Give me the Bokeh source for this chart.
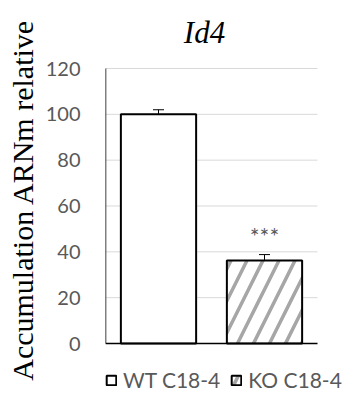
from bokeh.plotting import figure
from bokeh.models import ColumnDataSource, Range1d, FixedTicker, Whisker, TeeHead, Legend, LegendItem, Label
from bokeh.core.properties import value
from bokeh.embed import file_html
from bokeh.resources import INLINE

categories = ["WT C18-4", "KO C18-4"]
means = [100.0, 36.2]
errors = [2.0, 2.6]
significance = ["", "***"]
y_ticks = [0, 20, 40, 60, 80, 100, 120]
title_text = "Id4"
y_label = "Accumulation ARNm relative"

SERIF = "'Liberation Serif', 'Times New Roman', serif"
SANS = "Lato"

# canvas geometry (pixels)
W, H = 343, 399
LEFT = 105          # plot-area left edge
CAT_PX = 106        # width of one category slot
TOP_PX = 68         # pixel row of y = 120
ZERO_PX = 343       # pixel row of y = 0
k = (ZERO_PX - TOP_PX) / (y_ticks[-1] - y_ticks[0])   # px per unit

xs = [i + 0.5 for i in range(len(categories))]
src = ColumnDataSource(dict(
    x=xs,
    mean=means,
    upper=[m + e for m, e in zip(means, errors)],
    lower=[m - e for m, e in zip(means, errors)],
    sig=significance,
    sig_y=[m + e + 8.0 for m, e in zip(means, errors)],
))

p = figure(width=W, height=H, output_backend="svg", toolbar_location=None,
           x_range=Range1d(0, (W - LEFT) / CAT_PX),
           y_range=Range1d(-(H - ZERO_PX) / k, y_ticks[-1] + TOP_PX / k),
           min_border_left=LEFT, min_border_right=0, min_border_top=0, min_border_bottom=0)
p.title.visible = False
p.outline_line_color = None
p.background_fill_color = "white"
p.border_fill_color = "white"
p.xaxis.visible = False
p.xgrid.grid_line_color = None
p.ygrid.grid_line_color = None

n = len(categories)
# horizontal grid lines over the plot area only
grid_y = [t for t in y_ticks if t > 0]
p.segment(x0=[0] * len(grid_y), x1=[n] * len(grid_y), y0=grid_y, y1=grid_y,
          line_color="#d9d9d9", line_width=1)

wt = p.vbar(x=[xs[0]], top=[means[0]], width=0.71, fill_color="white",
            line_color="black", line_width=2)
ko = p.vbar(x=[xs[1]], top=[means[1]], width=0.71, fill_color="white",
            line_color="black", line_width=2, hatch_pattern="/", hatch_color="#a6a6a6",
            hatch_scale=32, hatch_weight=3.5)

# axes lines
p.segment(x0=[0], x1=[n], y0=[y_ticks[0]], y1=[y_ticks[0]], line_color="black", line_width=1.5)
p.segment(x0=[0], x1=[0], y0=[y_ticks[0]], y1=[y_ticks[-1]], line_color="black", line_width=1.5)

wh = Whisker(base="x", upper="upper", lower="lower", source=src, dimension="height",
             line_color="black", line_width=1,
             upper_head=TeeHead(size=11, line_color="black", line_width=1),
             lower_head=TeeHead(size=11, line_color="black", line_width=1))
p.add_layout(wh)

p.text(x="x", y="sig_y", text="sig", source=src, text_align="center",
       text_baseline="alphabetic", text_font=value(SANS), text_font_size="23px",
       text_color="#595959")

p.yaxis.ticker = FixedTicker(ticks=y_ticks)
p.yaxis.bounds = (y_ticks[0], y_ticks[-1] + 9 / k * 2)
p.yaxis.major_tick_line_color = None
p.yaxis.minor_tick_line_color = None
p.yaxis.major_tick_out = 0
p.yaxis.major_label_standoff = 25
p.yaxis.major_label_text_font = SANS
p.yaxis.major_label_text_font_size = "20px"
p.yaxis.major_label_text_color = "#595959"
p.yaxis.axis_line_color = None
p.yaxis.axis_label = y_label
p.yaxis.axis_label_text_font = SERIF
p.yaxis.axis_label_text_font_style = "normal"
p.yaxis.axis_label_text_font_size = "30px"
p.yaxis.axis_label_text_color = "black"
p.yaxis.axis_label_standoff = 4

title = Label(x=(204 - LEFT) / CAT_PX, y=y_ticks[-1] + (TOP_PX - 31.5) / k, text=title_text,
              text_align="center", text_baseline="alphabetic",
              text_font=SERIF, text_font_style="italic", text_font_size="31px",
              text_color="black")
p.add_layout(title)

legend = Legend(items=[LegendItem(label=categories[0], renderers=[wt]),
                       LegendItem(label=categories[1], renderers=[ko])],
                location=(0, 7), orientation="horizontal",
                glyph_width=12, glyph_height=12, label_standoff=6, spacing=10,
                padding=0, margin=0, border_line_color=None, background_fill_alpha=0,
                label_text_font=SANS, label_text_font_size="21px", label_text_color="#595959")
p.add_layout(legend, "center")

open("out.html", "w").write(file_html(p, INLINE))
